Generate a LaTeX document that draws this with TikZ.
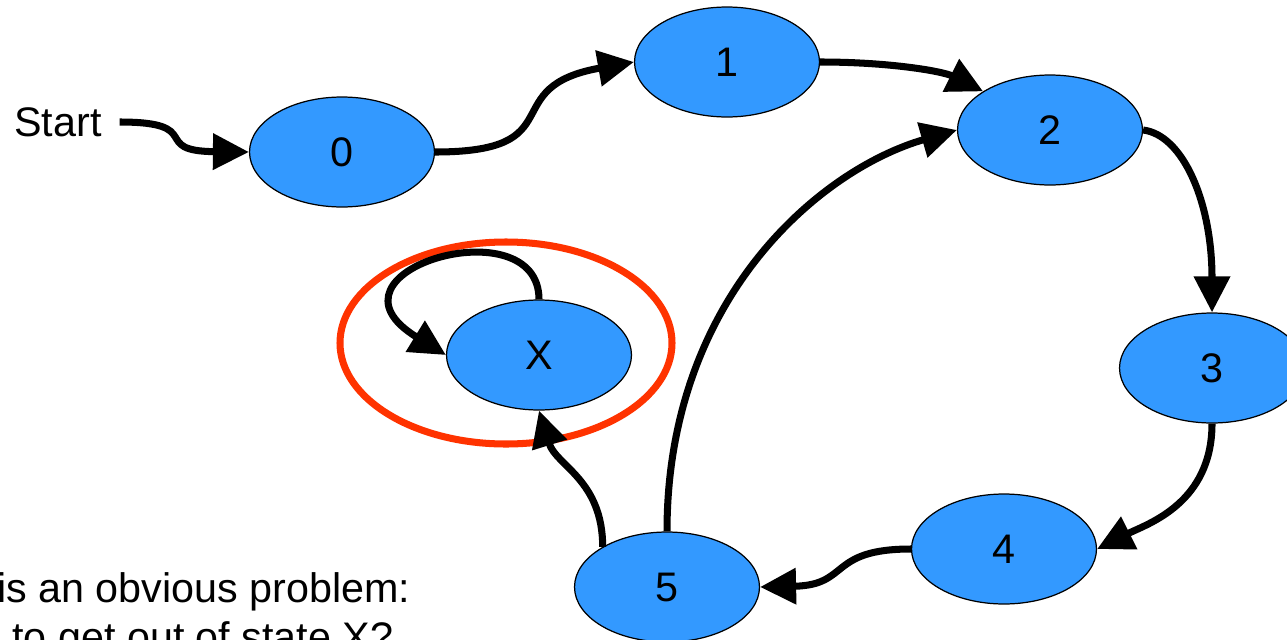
\documentclass[tikz,border=0pt]{standalone}
\usepackage{fontspec}
\setmainfont{Liberation Sans}
\usepackage{xcolor}
\usetikzlibrary{shapes,arrows.meta,positioning,calc}

\definecolor{stateblue}{HTML}{3399FF}
\definecolor{trapred}{HTML}{FF3300}

\begin{document}
\begin{tikzpicture}[
    x=0.02cm, y=-0.02cm,
    font=\fontsize{23.5}{28}\selectfont,
    statenode/.style={ellipse, draw, line width=0.7pt, fill=stateblue,
        minimum width=3.7cm, minimum height=2.2cm, inner sep=0pt},
    ptr/.style={-{Triangle[length=0.72cm, width=0.7cm]}, line width=4pt}
]
    \clip (0,0) rectangle (1287,639);

    \node[inner xsep=10pt] (start) at (58,122) {Start};
    \node[statenode] (n0) at (342,152) {0};
    \node[statenode] (n1) at (727,62) {1};
    \node[statenode] (n2) at (1050,130) {2};
    \node[statenode] (n3) at (1212,368) {3};
    \node[statenode] (n4) at (1004,549) {4};
    \node[statenode] (n5) at (667,587) {5};
    \node[statenode] (nx) at (539,355) {X};

    % the trap state
    \draw[trapred, line width=4pt] (506,343) ellipse [x radius=166, y radius=101];

    \draw[ptr] (start.east) .. controls +(87,0) and +(-100,-1) .. (n0.west);
    \draw[ptr] (n0.east) .. controls +(140,0) and +(-140,25) .. (n1.west);
    \draw[ptr] (n1.east) .. controls +(70,0) and +(-40,-20) .. (n2.150);
    \draw[ptr] (n2.east) .. controls +(40,5) and +(0,-110) .. (n3.north);
    \draw[ptr] (n3.south) .. controls +(0,80) and +(50,-25) .. (n4.east);
    \draw[ptr] (n4.west) .. controls +(-83,0) and +(90,-2) .. (n5.east);
    \draw[ptr] (n5.north) .. controls +(0,-232) and +(-138,40) .. (n2.west);
    \draw[ptr] (n5.148) .. controls +(0,-67) and +(17,55) .. (nx.south);
    \draw[ptr] (nx.north) .. controls +(0,-95) and +(-137,-84) .. (nx.west);

    \node[anchor=base west, inner sep=0pt] (line1) at (-3,602) {is an obvious problem:};
    \node[anchor=base west, inner sep=0pt] (line2) at (12,651) {to get out of state X?};
\end{tikzpicture}
\end{document}
